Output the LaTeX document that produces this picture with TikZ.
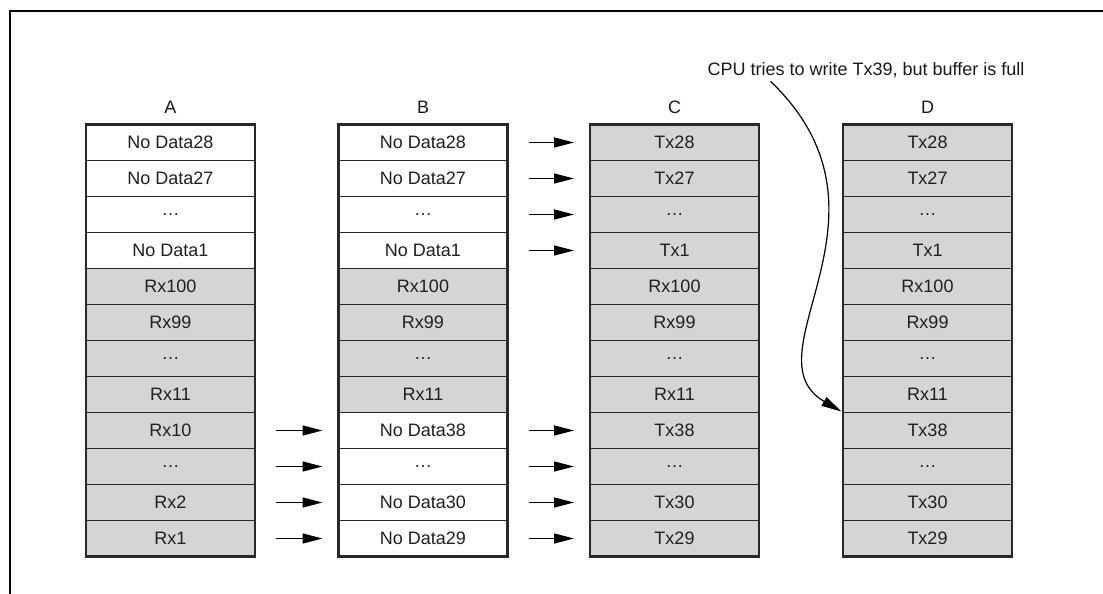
\documentclass[tikz,border=0pt]{standalone}
\usepackage{fontspec}
\setmainfont{Liberation Sans}
\usetikzlibrary{arrows.meta,positioning}
\definecolor{cellgray}{RGB}{212,213,215}
\definecolor{ink}{RGB}{40,40,40}

\begin{document}
\begin{tikzpicture}[
    x=0.5pt, y=-0.5pt,
    cell/.style={rectangle, draw=ink, line width=0.5pt, minimum width=84.5pt, minimum height=18pt, inner sep=0pt, outer sep=0pt, font=\fontsize{9}{10}\selectfont, text=black!88},
    free/.style={cell, fill=white},
    used/.style={cell, fill=cellgray},
    colbox/.style={draw=ink, line width=1.3pt},
    colname/.style={font=\fontsize{9}{10}\selectfont, text=black!90, anchor=base},
    move/.style={-{Triangle[length=10pt, width=5pt]}, line width=0.7pt, shorten <=10.5pt, shorten >=8pt},
    frame/.style={line width=1pt}
  ]
    \useasboundingbox (0,0) rectangle (1103,594);

    % Frame
    \draw[frame] (10,594) -- (10,11) -- (1103,11);

    % Buffer A
    \node[colname] (nameA) at (170.5,113) {A};
    \foreach \t/\s [count=\i] in {No Data28/free, No Data27/free, \ldots/free, No Data1/free, Rx100/used, Rx99/used, \ldots/used, Rx11/used, Rx10/used, \ldots/used, Rx2/used, Rx1/used}
      \node[\s] (a\i) at (170.5,{106.5+36*\i}) {\t};
    \draw[colbox] (a1.north west) rectangle (a12.south east);

    % Buffer B
    \node[colname] (nameB) at (423,113) {B};
    \foreach \t/\s [count=\i] in {No Data28/free, No Data27/free, \ldots/free, No Data1/free, Rx100/used, Rx99/used, \ldots/used, Rx11/used, No Data38/free, \ldots/free, No Data30/free, No Data29/free}
      \node[\s] (b\i) at (423,{106.5+36*\i}) {\t};
    \draw[colbox] (b1.north west) rectangle (b12.south east);

    % Buffer C
    \node[colname] (nameC) at (674.5,113) {C};
    \foreach \t [count=\i] in {Tx28, Tx27, \ldots, Tx1, Rx100, Rx99, \ldots, Rx11, Tx38, \ldots, Tx30, Tx29}
      \node[used] (c\i) at (674.5,{106.5+36*\i}) {\t};
    \draw[colbox] (c1.north west) rectangle (c12.south east);

    % Buffer D
    \node[colname] (nameD) at (927.5,113) {D};
    \foreach \t [count=\i] in {Tx28, Tx27, \ldots, Tx1, Rx100, Rx99, \ldots, Rx11, Tx38, \ldots, Tx30, Tx29}
      \node[used] (d\i) at (927.5,{106.5+36*\i}) {\t};
    \draw[colbox] (d1.north west) rectangle (d12.south east);

    % Note
    \node[colname] (cpu) at (866,75) {CPU tries to write Tx39, but buffer is full};

    % Arrows
    \foreach \i in {9,...,12}
      \draw[move] (a\i) -- (b\i);
    \foreach \i in {1,2,3,4,9,10,11,12}
      \draw[move] (b\i) -- (c\i);
    \draw[-{Triangle[length=10pt, width=5pt]}, line width=0.6pt, shorten >=1pt]
      ([xshift=35pt, yshift=1.5pt]cpu.south west) .. controls (910,215) and (745,355) .. (d9.north west);
  \end{tikzpicture}
\end{document}
